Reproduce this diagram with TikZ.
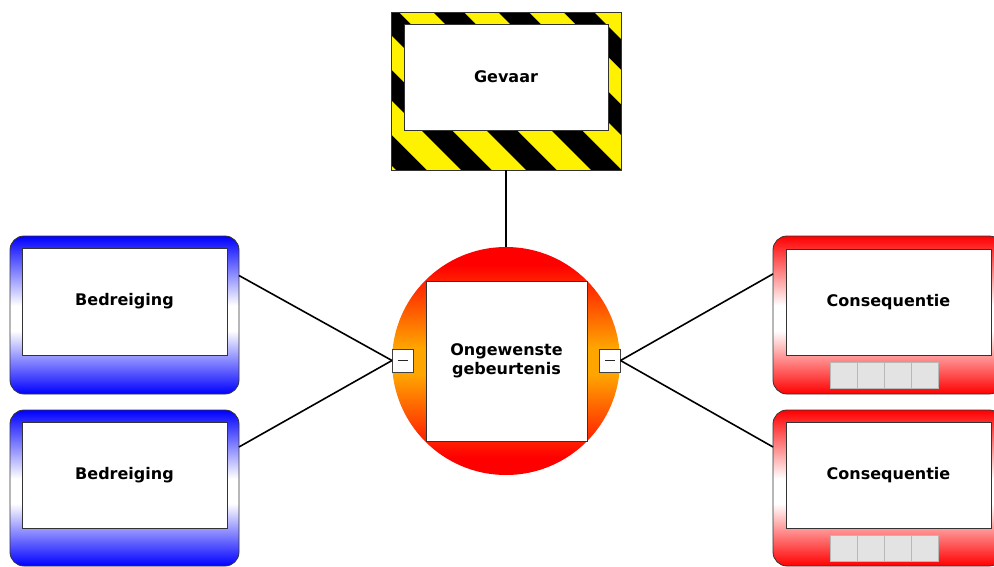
\documentclass[tikz,border=0pt]{standalone}
\usepackage{fontspec}
\setmainfont{DejaVu Sans}
\usetikzlibrary{calc}
\definecolor{myorange}{HTML}{FFA500}
\pgfdeclareverticalshading{bluegrad}{100bp}{color(0bp)=(blue); color(25bp)=(blue); color(45bp)=(white); color(53bp)=(white); color(75bp)=(blue); color(100bp)=(blue)}
\pgfdeclareverticalshading{redgrad}{100bp}{color(0bp)=(red); color(25bp)=(red); color(45bp)=(white); color(53bp)=(white); color(75bp)=(red); color(100bp)=(red)}
\pgfdeclareverticalshading{circgrad}{100bp}{color(0bp)=(red); color(29bp)=(red); color(47bp)=(myorange); color(53bp)=(myorange); color(71bp)=(red); color(100bp)=(red)}
\tikzset{
  outerbox/.style={minimum width=229, minimum height=158, inner sep=0, outer sep=0, rounded corners=14, draw=black!80, line width=0.8},
  threatbox/.style={outerbox, shade, shading=bluegrad},
  consbox/.style={outerbox, shade, shading=redgrad},
  inbox/.style={fill=white, draw=black!80, line width=0.8, minimum width=205, minimum height=107, inner sep=0, outer sep=0, align=center, font=\bfseries\fontsize{16}{19}\selectfont},
  btnbox/.style={minimum width=27, minimum height=26, fill=black!11, draw=black!28, line width=0.8, inner sep=0, outer sep=0},
  minusbox/.style={fill=white, draw=black!75, line width=0.8, minimum width=21, minimum height=23, inner sep=0, outer sep=0},
  minusbar/.style={line width=1, black!85},
  conn/.style={line width=1.6, black}
}
\begin{document}
\begin{tikzpicture}[x=1pt,y=-1pt]
\useasboundingbox (0,0) rectangle (994,566);
\clip (0,0) rectangle (994,566);
\fill[white] (0,0) rectangle (994,566);
% hazard stripes
\begin{scope}
\clip (391,12) rectangle (621,170);
\fill[black] (391,12) rectangle (621,170);
\foreach \c in {127,192,...,582}
  \fill[yellow] (\c+12,12) -- (\c+46,12) -- (\c+204,170) -- (\c+170,170) -- cycle;
\end{scope}
\node[draw=black!80, line width=0.8, minimum width=230, minimum height=158, inner sep=0, outer sep=0] (haz) at (506,91) {};
\node[inbox, minimum width=204, minimum height=106] (hazi) at (506,77) {Gevaar};
% event
\node[circle, minimum size=228, inner sep=0, outer sep=0, shade, shading=circgrad] (ev) at (506,361) {};
\node[inbox, minimum width=161, minimum height=160] (evi) at (506.5,361) {Ongewenste\\gebeurtenis};
\node[minusbox] (ml) at (402.5,360.5) {};
\node[minusbox] (mr) at (610,360.5) {};
\draw[minusbar] ([xshift=-5]ml.center) -- ([xshift=5]ml.center);
\draw[minusbar] ([xshift=-5]mr.center) -- ([xshift=5]mr.center);
% threats
\node[threatbox] (t1) at (124.5,315) {};
\node[inbox] (t1i) at (124.5,301.5) {Bedreiging};
\node[threatbox, minimum height=156] (t2) at (124.5,488) {};
\node[inbox, minimum height=106] (t2i) at (124.5,475) {Bedreiging};
% consequences
\node[consbox, minimum width=230] (c1) at (888,315) {};
\node[inbox, minimum height=106] (c1i) at (888.5,302) {Consequentie};
\foreach \i in {0,...,3} \node[btnbox] (c1b\i) at (843.5+27*\i,375) {};
\node[consbox, minimum width=230, minimum height=156] (c2) at (888,488) {};
\node[inbox, minimum height=106] (c2i) at (888.5,475) {Consequentie};
\foreach \i in {0,...,3} \node[btnbox] (c2b\i) at (843.5+27*\i,548) {};
% connectors
\draw[conn] (haz.south) -- (ev.north);
\draw[conn] ($(t1.north east)!0.25!(t1.south east)$) -- (ml.west);
\draw[conn] ($(t2.north east)!0.237!(t2.south east)$) -- (ml.west);
\draw[conn] (mr.east) -- ($(c1.north west)!0.24!(c1.south west)$);
\draw[conn] (mr.east) -- ($(c2.north west)!0.237!(c2.south west)$);
\end{tikzpicture}
\end{document}
